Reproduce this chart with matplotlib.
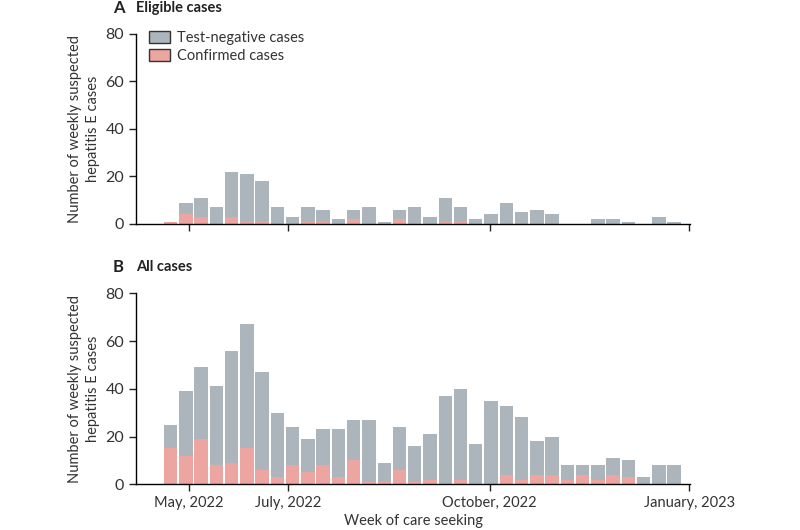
#!/usr/bin/env python
# weekly suspected hepatitis E cases, two stacked bar panels
import numpy as np
import matplotlib.pyplot as plt
from matplotlib.patches import Patch

plt.rcParams['font.family'] = ['Lato', 'DejaVu Sans']

# panel A: eligible cases (weekly totals and confirmed part)
eligible_total = [1, 9, 11, 7, 22, 21, 18, 7, 3, 7, 6, 2, 6, 7, 1, 6, 7,
                  3, 11, 7, 2, 4, 9, 5, 6, 4, 0, 0, 2, 2, 1, 0, 3, 1]
eligible_confirmed = [1, 4, 3, 0, 3, 1, 1, 0, 0, 1, 1, 0, 2, 0, 0, 2, 0,
                      0, 1, 1, 0, 0, 0, 0, 0, 0, 0, 0, 0, 0, 0, 0, 0, 0]

# panel B: all cases
all_total = [25, 39, 49, 41, 56, 67, 47, 30, 24, 19, 23, 23, 27, 27, 9, 24, 16,
             21, 37, 40, 17, 35, 33, 28, 18, 20, 8, 8, 8, 11, 10, 3, 8, 8]
all_confirmed = [15, 12, 19, 8, 9, 15, 6, 3, 8, 5, 8, 3, 10, 1, 1, 6, 1,
                 2, 0, 2, 0, 0, 4, 2, 4, 4, 2, 4, 2, 4, 3, 0, 0, 0]

# x tick positions in week units (week 0 = first bar)
tick_pos = [1.2, 7.7, 20.9, 34.0]
tick_labels = ['May, 2022', 'July, 2022', 'October, 2022', 'January, 2023']

grey = '#adb5bc'
pink = '#eca5a1'
width = 0.88

fig = plt.figure(figsize=(8, 5.3), dpi=100)
axA = fig.add_axes([0.17, 0.5774, 0.6925, 0.3585])
axB = fig.add_axes([0.17, 0.0862, 0.6925, 0.3604])


def draw(ax, total, confirmed):
    x = np.arange(len(total))
    total = np.array(total)
    confirmed = np.array(confirmed)
    ax.bar(x, confirmed, width, color=pink, linewidth=0)
    ax.bar(x, total - confirmed, width, bottom=confirmed, color=grey, linewidth=0)
    ax.set_ylim(0, 80)
    ax.set_xlim(-2.27, 34.04)
    ax.set_yticks([0, 20, 40, 60, 80])
    ax.set_xticks(tick_pos)
    for s in ['top', 'right']:
        ax.spines[s].set_visible(False)
    ax.spines['left'].set_bounds(0, 80)
    ax.spines['left'].set_linewidth(1.0)
    ax.spines['bottom'].set_linewidth(1.0)
    ax.tick_params(axis='both', direction='out', length=5, width=1,
                   labelsize=11.5, colors='#222222', labelcolor='#333333')
    ax.set_ylabel('Number of weekly suspected\nhepatitis E cases',
                  fontsize=10.5, color='#333333', labelpad=4, linespacing=1.35)


draw(axA, eligible_total, eligible_confirmed)
draw(axB, all_total, all_confirmed)
axA.set_xticklabels([])
axB.set_xticklabels(tick_labels, fontsize=10.5)
axB.set_xlabel('Week of care seeking', fontsize=10.5, color='#333333', labelpad=3)

# panel titles
fig.text(0.141, 0.985, 'A', fontsize=12, fontweight='bold', color='#222222', va='center')
fig.text(0.17, 0.985, 'Eligible cases', fontsize=10.5, fontweight='bold',
         color='#222222', va='center')
fig.text(0.141, 0.497, 'B', fontsize=12, fontweight='bold', color='#222222', va='center')
fig.text(0.17, 0.497, 'All cases', fontsize=10.5, fontweight='bold',
         color='#222222', va='center')

handles = [Patch(facecolor=grey, edgecolor='#333333', linewidth=1),
           Patch(facecolor=pink, edgecolor='#333333', linewidth=1)]
axA.legend(handles, ['Test-negative cases', 'Confirmed cases'],
           loc='upper left', bbox_to_anchor=(0.0, 1.085), frameon=False,
           fontsize=10.5, handlelength=1.4, handleheight=0.9,
           handletextpad=0.5, labelspacing=0.25, labelcolor='#333333')

plt.savefig('out.png', dpi=100)
